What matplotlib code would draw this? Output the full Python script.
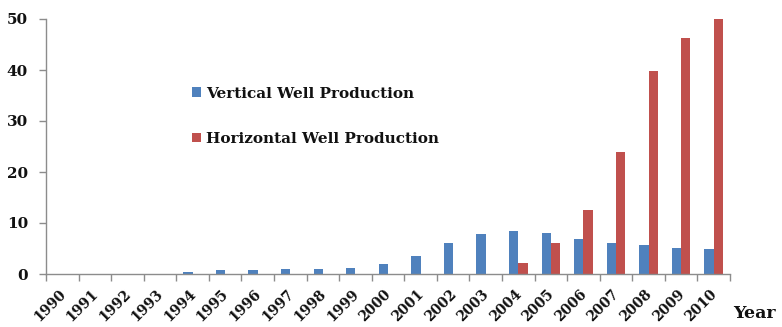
import numpy as np
import matplotlib.pyplot as plt
import matplotlib.transforms as mtransforms
from matplotlib.ticker import FixedLocator

years = [str(y) for y in range(1990, 2011)]
vertical = [0, 0, 0, 0, 0.45, 0.7, 0.7, 1.0, 1.0, 1.25, 1.9,
            3.5, 6.0, 7.8, 8.4, 8.1, 6.9, 6.0, 5.75, 5.1, 4.85]
horizontal = [0, 0, 0, 0, 0, 0, 0, 0, 0, 0, 0,
              0, 0, 0, 2.1, 6.0, 12.5, 24.0, 39.8, 46.3, 50.0]

plt.rcParams['font.family'] = ['DejaVu Serif']
plt.rcParams['font.weight'] = 'bold'
plt.rcParams['text.color'] = '#111111'

fig = plt.figure(figsize=(7.82, 3.27), dpi=100)
ax = fig.add_axes([46/782, 1-274/327, (730-46)/782, (274-19)/327])

x = np.arange(len(years))
w = 0.285
ax.bar(x - w/2, vertical, width=w, color='#4F81BD', label='Vertical Well Production')
ax.bar(x + w/2, horizontal, width=w, color='#C0504D', label='Horizontal Well Production')

ax.set_xlim(-0.5, len(years) - 0.5)
ax.set_ylim(0, 50)
ax.set_yticks([0, 10, 20, 30, 40, 50])

for s in ['top', 'right']:
    ax.spines[s].set_visible(False)
for s in ['left', 'bottom']:
    ax.spines[s].set_color('#8c8c8c')
    ax.spines[s].set_linewidth(1.0)

# year labels sit at bar centres, tick marks sit between categories
ax.set_xticks(x)
ax.set_xticklabels(years, rotation=45, ha='right', va='top', rotation_mode='anchor')
ax.xaxis.set_minor_locator(FixedLocator(np.arange(len(years) + 1) - 0.5))
ax.tick_params(axis='x', which='major', length=0, pad=9, labelsize=10, labelcolor='#111111')
ax.tick_params(axis='x', which='minor', length=5, color='#8c8c8c', width=1)
ax.tick_params(axis='y', length=5, color='#8c8c8c', width=1, labelsize=11, pad=8,
               labelcolor='#111111')
shift = mtransforms.ScaledTranslation(-4/100, 0, fig.dpi_scale_trans)
for lbl in ax.get_xticklabels():
    lbl.set_transform(lbl.get_transform() + shift)

ax.legend(loc='upper left', bbox_to_anchor=(184/782, 1-79/327), bbox_transform=fig.transFigure,
          frameon=False, borderpad=0, handlelength=0.6, handleheight=0.6,
          handletextpad=0.35, labelspacing=2.05, prop={'size': 11, 'weight': 'bold'})

fig.text(733/782, 1-314/327, 'Year', fontsize=12.5, fontweight='bold', va='center', ha='left')

fig.savefig('out.png', dpi=100)
